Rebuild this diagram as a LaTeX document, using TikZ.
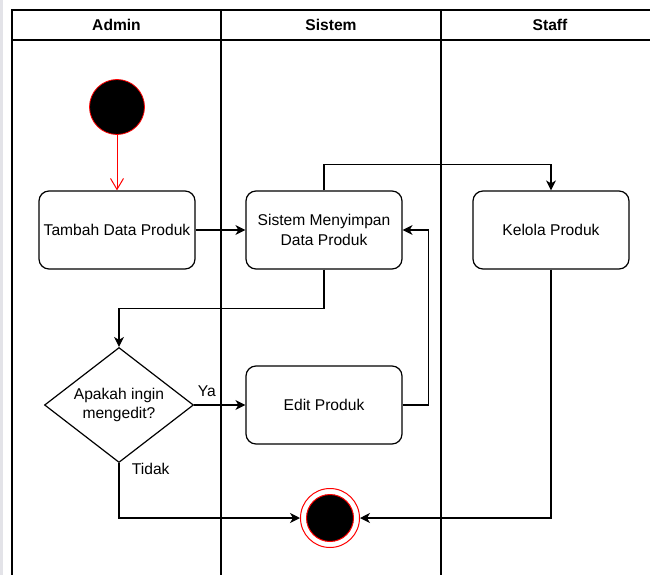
\documentclass[tikz,border=0pt]{standalone}
\usepackage{fontspec}
\setmainfont{Liberation Sans}
\usetikzlibrary{shapes.geometric,arrows.meta}

\begin{document}
\begin{tikzpicture}[x=1pt,y=-1pt,
 	font=\fontsize{15.6}{19.5}\selectfont,
 	lane/.style={line width=1.2pt},
 	act/.style={draw,rounded corners=10pt,line width=1.2pt,minimum width=156pt,minimum height=78pt,align=center,inner sep=0pt},
 	dec/.style={draw,diamond,aspect=1.3,line width=1.2pt,minimum width=149pt,minimum height=115pt,align=center,inner sep=0pt},
 	flow/.style={line width=1.2pt,-{Stealth[length=10pt,width=10pt,inset=3pt]}}]
 	\useasboundingbox (0,0) rectangle (650,575);
 	\clip (0,0) rectangle (650,575);
 	\fill[blue!8!gray!20] (0,0) rectangle (3,575);
 	% swimlanes
 	\draw[lane] (12,575) |- (660,10);
 	\draw[lane] (12,40) -- (660,40);
 	\draw[lane] (221,10) -- (221,575);
 	\draw[lane] (441,10) -- (441,575);
 	\node[font=\bfseries\fontsize{15.6}{19}\selectfont] (hAdmin) at (116.5,25) {Admin};
 	\node[font=\bfseries\fontsize{15.6}{19}\selectfont] (hSistem) at (331,25) {Sistem};
 	\node[font=\bfseries\fontsize{15.6}{19}\selectfont] (hStaff) at (550,25) {Staff};
 	% nodes
 	\node[circle,fill=black,draw=red,line width=0.8pt,minimum size=55pt,inner sep=0pt] (start) at (117,107) {};
 	\node[act] (tambah) at (117,230) {Tambah Data Produk};
 	\node[act] (simpan) at (324,230) {Sistem Menyimpan\\Data Produk};
 	\node[act] (kelola) at (551,230) {Kelola Produk};
 	\node[dec] (cek) at (119,405) {Apakah ingin\\mengedit?};
 	\node[act] (edit) at (324,405) {Edit Produk};
 	\node[circle,fill=white,draw=red,line width=1pt,minimum size=59pt,inner sep=0pt] (end) at (330,518) {};
 	\node[circle,fill=black,draw=red,line width=1pt,minimum size=47pt,inner sep=0pt] (endin) at (end) {};
 	% connectors
 	\draw[red,line width=1pt,-{Straight Barb[length=11pt,width=13pt]}] (start) -- (tambah);
 	\draw[flow] (tambah) -- (simpan);
 	\draw[flow] (simpan.north) -- ++(0,-26) -| (kelola.north);
 	\draw[flow] (simpan.south) -- ++(0,39) -| (cek.north);
 	\draw[flow] (cek.east) -- node[pos=0.25,above=4pt] {Ya} (edit.west);
 	\draw[flow] (edit.east) -- ++(26,0) |- (simpan.east);
 	\draw[flow] (cek.south) |- node[pos=0.05,anchor=west,xshift=9pt] {Tidak} (end);
 	\draw[flow] (kelola.south) |- (end);
\end{tikzpicture}
\end{document}
